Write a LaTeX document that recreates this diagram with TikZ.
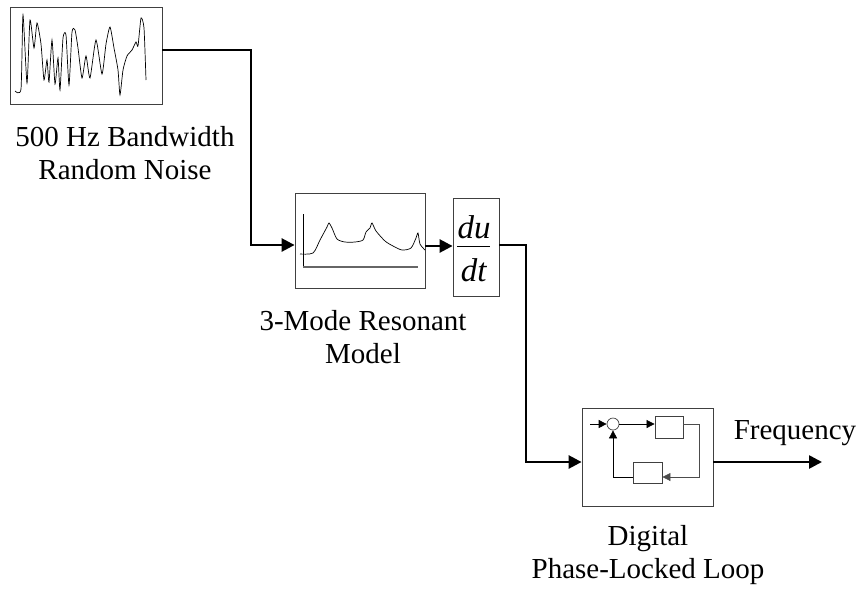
\documentclass[tikz,border=0pt]{standalone}
\usepackage{fontspec}
\setmainfont{Liberation Serif}
\usetikzlibrary{arrows.meta}
\begin{document}
\begin{tikzpicture}[x=1pt,y=-1pt,
    every node/.style={font=\fontsize{29}{33}\selectfont,inner sep=0pt},
    blk/.style={draw=black!75,line width=0.8pt},
    sig/.style={line width=2.6pt,-{Triangle[length=13pt,width=13pt]}},
    thinsig/.style={line width=0.7pt,-{Triangle[length=8pt,width=8pt]}},
    wave/.style={line width=0.7pt}]
    \useasboundingbox (0,0) rectangle (861,592);
    % blocks
    \node[blk,minimum width=152pt,minimum height=97pt] (noise) at (86,55.5) {};
    \node[blk,minimum width=130pt,minimum height=95pt] (reson) at (360,240.5) {};
    \node[blk,minimum width=46pt,minimum height=98pt] (deriv) at (476,247) {};
    \node[blk,minimum width=131pt,minimum height=98pt] (pll) at (647.5,457) {};
    % noise trace
    \draw[wave] plot[smooth,tension=0.35] coordinates {(15,91) (21,89) (23,15) (27,83)
      (30,20) (34,48) (37,23) (41,44) (44,80) (47,60) (49,82) (52,40) (55,84)
      (58,58) (60,90) (63,38) (66,35) (69,85) (72,32) (75,30) (78,48)
      (82,78) (86,56) (90,78) (96,40) (102,74) (106,44) (110,27) (114,48)
      (118,70) (120,95) (123,70) (127,56) (132,50) (136,42) (138,46) (141,18)
      (144,28) (146,80)};
    % resonance plot
    \draw[wave] (303,214) -- (303,267);
    \draw[line width=1.4pt,black!60] (303,267) -- (418,267);
    \draw[wave] plot[smooth,tension=0.45] coordinates {(300,254) (313,253) (320,240)
      (327,227) (329,223) (332,228) (337,239) (345,242) (355,242) (363,240)
      (366,232) (370,228) (372,223) (376,231) (385,241) (393,246) (402,250)
      (411,248) (416,238) (418,233) (420,244) (425,250)};
    % derivative
    \node[font=\fontsize{33}{36}\selectfont] (du) at (474,227) {\textit{du}};
    \node[font=\fontsize{33}{36}\selectfont] (dt) at (474,270) {\textit{dt}};
    \draw[line width=0.8pt] (457,246) -- (490,246);
    % loop inside the PLL
    \node[draw=black!75,circle,minimum size=12pt,line width=0.7pt] (sum) at (613,424) {};
    \node[blk,minimum width=28pt,minimum height=22pt] (fwd) at (669,427) {};
    \node[blk,minimum width=29pt,minimum height=21pt] (fb) at (647.5,472.5) {};
    \coordinate (pllin) at (590,424);
    \coordinate (loopr) at (699,477);
    \draw[thinsig] (pllin) -- (sum);
    \draw[thinsig] (sum) -- (sum -| fwd.west);
    \draw[thinsig,draw=black!70] (sum -| fwd.east) -| (loopr) -- (loopr -| fb.east);
    \draw[thinsig] (loopr -| fb.west) -| (sum.south);
    % signal path
    \coordinate (bend1) at (251,245);
    \coordinate (bend2) at (526,462);
    \coordinate (freqend) at (822,462);
    \draw[sig] ([yshift=5.5pt]noise.east) -| (bend1) -- ([yshift=-4.5pt]reson.west);
    \draw[sig] ([yshift=-5.5pt]reson.east) -- ([yshift=-5.5pt]reson.east -| deriv.west);
    \draw[sig] ([yshift=2pt]deriv.east) -| (bend2) -- ([yshift=-5pt]pll.west);
    \draw[sig] ([yshift=-5pt]pll.east) -- (freqend);
    % labels
    \node[align=center] (noiselbl) at (125,153) {500 Hz Bandwidth\\Random Noise};
    \node[align=center] (resonlbl) at (363,337) {3-Mode Resonant\\Model};
    \node[align=center] (plllbl) at (648,555) {Digital\\Phase-Locked Loop};
    \node (freqlbl) at (795,433) {Frequency};
\end{tikzpicture}
\end{document}
